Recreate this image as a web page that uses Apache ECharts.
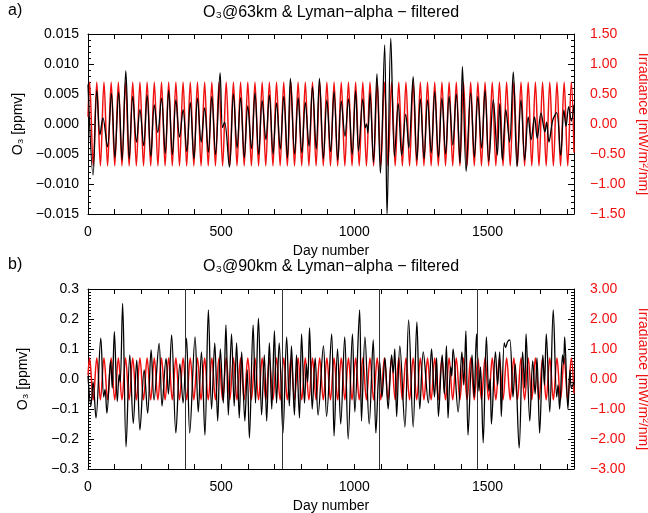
<!DOCTYPE html>
<html>
<head>
<meta charset="utf-8">
<script src="https://cdn.jsdelivr.net/npm/echarts@6/dist/echarts.min.js"></script>
<style>
html,body{margin:0;padding:0;background:#fff;overflow:hidden;}
#chart{width:648px;height:513px;}
</style>
</head>
<body>
<div id="chart"></div>
<script>
// ---- Data ----
// Lyman-alpha filtered irradiance (mW/m^2/nm): extrema days and values
const redDays = [0,6,19.5,33,46.5,60,73.5,87,100.5,114,127.5,141,154.5,168,181.5,195,208.5,222,235.5,249,262.5,276,289.5,303,316.5,330,343.5,357,370.5,384,397.5,411,424.5,438,451.5,465,478.5,492,505.5,519,532.5,546,559.5,573,586.5,600,613.5,627,640.5,654,667.5,681,694.5,708,721.5,735,748.5,762,775.5,789,802.5,816,829.5,843,856.5,870,883.5,897,910.5,924,937.5,951,964.5,978,991.5,1005,1018.5,1032,1045.5,1059,1072.5,1086,1099.5,1113,1126.5,1140,1153.5,1167,1180.5,1194,1207.5,1221,1234.5,1248,1261.5,1275,1288.5,1302,1315.5,1329,1342.5,1356,1369.5,1383,1396.5,1410,1423.5,1437,1450.5,1464,1477.5,1491,1504.5,1518,1531.5,1545,1558.5,1572,1585.5,1599,1612.5,1626,1639.5,1653,1666.5,1680,1693.5,1707,1720.5,1734,1747.5,1761,1774.5,1788,1801.5,1815,1825];
const redIrr = [0.12,
0.70,-0.70,0.70,-0.70,0.70,-0.70,0.70,-0.70,0.70,-0.70,0.70,-0.70,0.70,-0.70,0.70,-0.70,0.70,-0.70,0.70,-0.70,
0.70,-0.70,0.70,-0.70,0.70,-0.70,0.70,-0.70,0.70,-0.70,0.70,-0.70,0.70,-0.70,0.70,-0.70,0.70,-0.70,0.70,-0.70,
0.70,-0.70,0.70,-0.70,0.70,-0.70,0.70,-0.70,0.70,-0.70,0.70,-0.70,0.70,-0.70,0.70,-0.70,0.70,-0.70,0.70,-0.70,
0.70,-0.70,0.70,-0.70,0.70,-0.70,0.70,-0.70,0.70,-0.70,0.70,-0.70,0.70,-0.70,0.70,-0.70,0.70,-0.70,0.70,-0.70,
0.70,-0.70,0.70,-0.70,0.70,-0.70,0.70,-0.70,0.70,-0.70,0.70,-0.70,0.70,-0.70,0.70,-0.70,0.70,-0.70,0.70,-0.70,
0.70,-0.70,0.70,-0.70,0.70,-0.70,0.70,-0.70,0.70,-0.70,0.70,-0.70,0.70,-0.70,0.70,-0.70,0.70,-0.70,0.70,-0.70,
0.70,-0.70,0.70,-0.70,0.70,-0.70,0.70,-0.70,0.70,-0.70,0.70,-0.70,0.70,-0.70,
0.70,-0.48];

// O3 at 63 km, filtered (ppmv): [day, value]
const o3at63 = [[0,0.0066],[19,-0.0085],[33,0.0056],[45,-0.0018],[56,0.0010],[73,-0.0038],[88,0.0051],[101,-0.0056],[115,0.0053],[128,-0.0060],
[142,0.0089],[155,-0.0058],[168,0.0046],[182,-0.0030],[195,0.0024],[209,-0.0036],[222,0.0048],[236,-0.0054],[249,0.0032],[262,-0.0014],
[276,0.0043],[290,-0.0049],[303,0.0056],[317,-0.0051],[330,0.0040],[344,-0.0022],[357,0.0024],[371,-0.0046],[384,0.0036],[398,-0.0058],
[411,0.0043],[425,-0.0030],[438,0.0027],[452,-0.0047],[465,0.0046],[479,-0.0051],[496,0.0085],[505,-0.0006],[513,0.0003],[531,-0.0072],
[546,0.0050],[560,-0.0040],[573,0.0044],[587,-0.0056],[600,0.0030],[614,-0.0041],[627,0.0052],[641,-0.0051],[654,0.0039],[668,-0.0026],
[681,0.0048],[695,-0.0050],[708,0.0035],[722,-0.0042],[735,0.0046],[749,-0.0057],[760,0.0076],[776,-0.0050],[789,0.0044],[803,-0.0048],
[816,0.0036],[830,-0.0037],[843,0.0062],[857,-0.0042],[869,0.0076],[884,-0.0058],[897,0.0040],[911,-0.0046],[924,0.0054],[938,-0.0060],
[951,0.0038],[965,-0.0020],[978,0.0042],[992,-0.0051],[1005,0.0055],[1016,-0.0045],[1032,0.0042],[1041,-0.0006],[1046,0.0000],[1051,-0.0015],
[1059,0.0052],[1072,-0.0064],[1085,0.0084],[1098,-0.0082],[1114,0.0132],[1123,-0.0153],[1137,0.0143],[1151,-0.0054],[1165,0.0034],[1178,-0.0052],
[1193,0.0016],[1205,-0.0040],[1221,0.0079],[1235,-0.0060],[1248,0.0042],[1262,-0.0058],[1275,0.0040],[1289,-0.0048],[1302,0.0054],[1316,-0.0055],
[1329,0.0043],[1343,-0.0050],[1356,0.0046],[1370,-0.0035],[1383,0.0050],[1397,-0.0065],[1406,0.0096],[1420,-0.0079],[1437,0.0052],[1451,-0.0055],
[1464,0.0046],[1478,-0.0040],[1491,0.0056],[1505,-0.0062],[1522,0.0040],[1537,-0.0052],[1546,0.0034],[1556,-0.0060],[1569,0.0024],[1583,-0.0030],
[1597,0.0087],[1611,-0.0071],[1626,0.0040],[1640,-0.0060],[1653,0.0012],[1664,-0.0026],[1677,0.0012],[1687,-0.0024],[1701,0.0018],[1716,-0.0013],
[1722,0.0003],[1731,-0.0030],[1745,0.0006],[1760,0.0019],[1775,-0.0052],[1787,0.0023],[1795,-0.0004],[1805,0.0029],[1815,0.0005],[1825,0.0032]];

// O3 at 90 km, filtered (ppmv): [day, value]
const o3at90 = [[0,0.010],[11,-0.090],[19,-0.010],[30,-0.130],[48,0.136],[59,-0.060],[64,-0.035],[71,-0.114],[85,0.060],[91,-0.030],
[99,0.158],[110,-0.075],[117,0.015],[121,-0.010],[130,0.252],[143,-0.226],[157,0.080],[170,-0.148],[183,0.063],[195,-0.170],
[211,0.030],[224,-0.114],[237,0.097],[248,-0.070],[267,0.119],[278,-0.090],[293,0.069],[302,-0.050],[314,0.147],[330,-0.180],
[345,0.050],[357,-0.080],[370,0.136],[382,-0.180],[402,0.140],[414,-0.110],[426,0.090],[439,-0.187],[452,0.230],[464,-0.100],
[476,0.120],[487,-0.140],[497,0.100],[508,-0.080],[518,0.180],[527,-0.120],[539,0.150],[549,-0.090],[558,0.120],[568,-0.130],
[577,0.090],[589,-0.140],[598,0.030],[606,-0.197],[620,0.180],[629,-0.080],[640,0.203],[652,-0.120],[662,0.080],[671,-0.140],
[681,0.120],[690,-0.100],[700,0.160],[708,-0.080],[718,0.120],[732,-0.180],[746,0.140],[756,-0.090],[764,0.110],[775,-0.120],
[783,0.080],[794,-0.130],[802,0.150],[813,-0.080],[820,0.050],[825,-0.010],[832,0.170],[842,-0.100],[853,0.070],[864,-0.120],
[884,0.110],[896,-0.125],[915,0.150],[924,-0.190],[937,0.100],[949,-0.150],[964,0.140],[977,-0.200],[993,0.150],[1002,-0.110],
[1020,0.230],[1027,-0.140],[1040,0.140],[1056,-0.150],[1071,0.130],[1081,-0.180],[1095,0.060],[1104,-0.060],[1115,0.070],[1127,-0.100],
[1140,0.080],[1146,0.020],[1152,0.100],[1159,-0.125],[1171,0.110],[1190,-0.160],[1204,0.197],[1221,-0.160],[1235,0.190],[1246,-0.100],
[1259,0.090],[1278,-0.080],[1290,0.100],[1301,-0.060],[1309,0.070],[1316,-0.125],[1330,0.080],[1338,-0.050],[1346,0.110],[1352,-0.130],
[1362,0.040],[1366,0.010],[1371,0.100],[1390,-0.110],[1404,0.090],[1411,-0.020],[1419,0.160],[1427,-0.187],[1442,0.080],[1450,-0.060],
[1459,0.150],[1468,-0.040],[1474,0.040],[1484,-0.213],[1496,0.140],[1505,-0.040],[1510,0.000],[1515,-0.150],[1530,0.090],[1538,-0.020],
[1546,0.090],[1552,-0.125],[1563,0.120],[1568,0.105],[1576,0.125],[1584,0.130],[1596,-0.060],[1604,0.050],[1619,-0.230],[1632,0.090],
[1640,-0.030],[1645,0.150],[1659,-0.140],[1670,0.060],[1679,-0.050],[1686,0.070],[1696,-0.180],[1708,0.080],[1714,-0.020],[1721,0.150],
[1734,-0.110],[1747,0.230],[1760,-0.060],[1765,-0.020],[1771,-0.100],[1782,0.080],[1786,0.050],[1790,0.140],[1802,-0.100],[1810,0.030],
[1815,-0.030],[1825,-0.010]];

// Vertical year separators in panel b (day numbers)
const yearMarks = [365, 730, 1095, 1460];

// Axis settings (tick values)
const dayRange = [0, 1825];
const o3TopRange = [-0.015, 0.015], o3TopStep = 0.005;
const irrTopRange = [-1.5, 1.5], irrTopStep = 0.5;
const o3BotRange = [-0.3, 0.3], o3BotStep = 0.1;
const irrBotRange = [-3, 3], irrBotStep = 1;
const titles = ['O\u2083@63km & Lyman\u2212alpha \u2212 filtered', 'O\u2083@90km & Lyman\u2212alpha \u2212 filtered'];
const panelTags = ['a)', 'b)'];

// ---- Chart ----
const FONT = '"Liberation Sans", Arial, Helvetica, sans-serif';
const RED = '#f01010';
const redData = redDays.map((d, i) => [d, redIrr[i]]);

function fmt(v, d) {
  if (Math.abs(v) < 1e-9) v = 0;
  return v.toFixed(d).replace('-', '\u2212');
}

function xAxes(grid) {
  const base = {
    gridIndex: grid, type: 'value', min: dayRange[0], max: dayRange[1], interval: 100,
    axisLine: { show: true, onZero: false, lineStyle: { color: '#000', width: 1 } },
    axisTick: { show: true, inside: true, length: 5, lineStyle: { color: '#000' } },
    splitLine: { show: false },
  };
  return [
    Object.assign({}, base, {
      position: 'bottom',
      axisLabel: { show: true, margin: 11, showMaxLabel: false, color: '#000', fontSize: 14, fontFamily: FONT,
        formatter: v => (v % 500 === 0 ? String(v) : '') },
      name: 'Day number', nameLocation: 'middle', nameGap: 30,
      nameTextStyle: { color: '#000', fontSize: 14, fontFamily: FONT }
    }),
    Object.assign({}, base, { position: 'top', axisLabel: { show: false } })
  ];
}

function yAxes(grid, lr, rr, ls, rs, ld, rd, minorSplit) {
  const tick = { show: true, inside: true, length: 6, lineStyle: { color: '#000' } };
  const minor = { show: true, splitNumber: minorSplit, length: 3, lineStyle: { color: '#000' } };
  return [
    {
      gridIndex: grid, type: 'value', position: 'left', min: lr[0], max: lr[1], interval: ls,
      axisLine: { show: true, onZero: false, lineStyle: { color: '#000', width: 1 } },
      axisTick: tick, minorTick: minor, splitLine: { show: false }, minorSplitLine: { show: false },
      axisLabel: { margin: 9, color: '#000', fontSize: 14, fontFamily: FONT, formatter: v => fmt(v, ld) },
      name: 'O\u2083 [ppmv]', nameLocation: 'middle', nameGap: 58, nameRotate: 90,
      nameTextStyle: { color: '#000', fontSize: 14, fontFamily: FONT }
    },
    {
      gridIndex: grid, type: 'value', position: 'right', min: rr[0], max: rr[1], interval: rs,
      axisLine: { show: true, onZero: false, lineStyle: { color: '#000', width: 1 } },
      axisTick: tick, minorTick: minor, splitLine: { show: false }, minorSplitLine: { show: false },
      axisLabel: { margin: 16, color: RED, fontSize: 14, fontFamily: FONT, formatter: v => fmt(v, rd) },
      name: 'Irradiance [mW/m\u00b2/nm]', nameLocation: 'middle', nameGap: 60, nameRotate: -90,
      nameTextStyle: { color: RED, fontSize: 14, fontFamily: FONT }
    }
  ];
}

const chart = echarts.init(document.getElementById('chart'), null, { renderer: 'canvas', width: 648, height: 513 });
chart.setOption({
  animation: false,
  backgroundColor: '#fff',
  grid: [
    { left: 88, right: 74, top: 34, height: 180, containLabel: false, outerBoundsMode: 'none' },
    { left: 88, right: 74, top: 289, height: 180, containLabel: false, outerBoundsMode: 'none' }
  ],
  xAxis: [].concat(xAxes(0), xAxes(1)),
  yAxis: [].concat(
    yAxes(0, o3TopRange, irrTopRange, o3TopStep, irrTopStep, 3, 2, 5),
    yAxes(1, o3BotRange, irrBotRange, o3BotStep, irrBotStep, 1, 2, 10)
  ),
  graphic: [
    { type: 'text', left: 8, top: 3, style: { text: panelTags[0], fontSize: 16, fontFamily: FONT, fill: '#000' } },
    { type: 'text', left: 8, top: 257, style: { text: panelTags[1], fontSize: 16, fontFamily: FONT, fill: '#000' } },
    { type: 'text', x: 331, y: 13, style: { text: titles[0], fontSize: 16, fontFamily: FONT, fill: '#000', textAlign: 'center', textVerticalAlign: 'middle' } },
    { type: 'text', x: 331, y: 267, style: { text: titles[1], fontSize: 16, fontFamily: FONT, fill: '#000', textAlign: 'center', textVerticalAlign: 'middle' } }
  ],
  series: [
    { type: 'line', xAxisIndex: 0, yAxisIndex: 1, data: redData, showSymbol: false, symbol: 'none', smooth: 0.35,
      lineStyle: { color: RED, width: 1.5 }, clip: true },
    { type: 'line', xAxisIndex: 0, yAxisIndex: 0, data: o3at63, showSymbol: false, symbol: 'none', smooth: 0.35,
      lineStyle: { color: '#000', width: 1.3 }, clip: true },
    { type: 'line', xAxisIndex: 2, yAxisIndex: 3, data: redData, showSymbol: false, symbol: 'none', smooth: 0.35,
      lineStyle: { color: RED, width: 1.5 }, clip: true },
    { type: 'line', xAxisIndex: 2, yAxisIndex: 2, data: o3at90, showSymbol: false, symbol: 'none', smooth: 0.35,
      lineStyle: { color: '#000', width: 1.3 }, clip: true,
      markLine: { silent: true, symbol: ['none', 'none'], label: { show: false },
        lineStyle: { color: '#333', width: 1, type: 'solid' },
        data: yearMarks.map(d => ({ xAxis: d })) } }
  ]
});
</script>
</body>
</html>
